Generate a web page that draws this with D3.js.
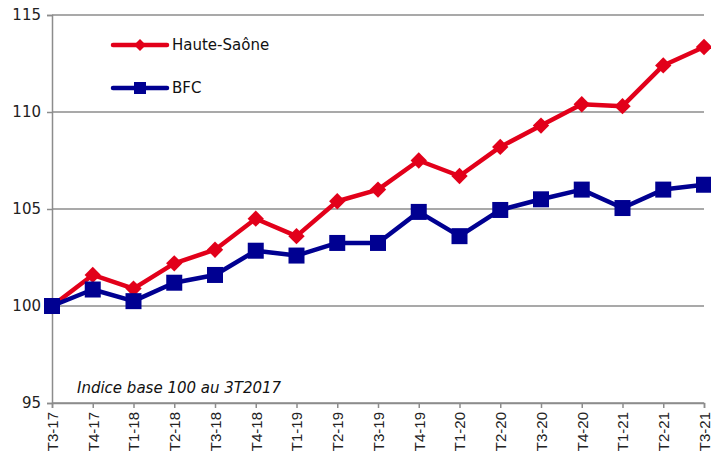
<!DOCTYPE html>
<html>
<head>
<meta charset="utf-8">
<script src="https://cdn.jsdelivr.net/npm/d3@7"></script>
<style>
  body { margin: 0; background: white; }
  svg { display: block; }
</style>
</head>
<body>
<svg id="chart"></svg>
<script>
// Data
const quarters = ['T3-17', 'T4-17', 'T1-18', 'T2-18', 'T3-18', 'T4-18', 'T1-19', 'T2-19', 'T3-19',
  'T4-19', 'T1-20', 'T2-20', 'T3-20', 'T4-20', 'T1-21', 'T2-21', 'T3-21'];
const hauteSaone = [100, 101.6, 100.9, 102.2, 102.9, 104.5, 103.6, 105.4, 106.0,
  107.5, 106.7, 108.2, 109.3, 110.4, 110.3, 112.4, 113.35];
const bfc = [100, 100.85, 100.25, 101.2, 101.6, 102.85, 102.6, 103.25, 103.25,
  104.85, 103.6, 104.95, 105.5, 106.0, 105.05, 106.0, 106.25];
const yTicks = [95, 100, 105, 110, 115];

const W = 711, H = 460;
const margin = { top: 15, right: 7, bottom: 57, left: 52 };
const width = W - margin.left - margin.right;
const height = H - margin.top - margin.bottom;

const svg = d3.select('#chart').attr('width', W).attr('height', H);
const g = svg.append('g').attr('transform', `translate(${margin.left},${margin.top})`);

const x = d3.scalePoint().domain(quarters).range([0, width]);
const y = d3.scaleLinear().domain([95, 115]).range([height, 0]);

const gridColor = '#8c8c8c';
const mainFont = '"DejaVu Sans", sans-serif';

// Horizontal gridlines
g.append('g')
  .selectAll('line')
  .data(yTicks)
  .enter()
  .append('line')
  .attr('x1', 0)
  .attr('x2', width)
  .attr('y1', d => y(d))
  .attr('y2', d => y(d))
  .attr('stroke', gridColor)
  .attr('stroke-width', 1.5);

// Y axis
const yAxis = g.append('g')
  .call(d3.axisLeft(y).tickValues(yTicks).tickSize(5).tickPadding(6));
yAxis.select('.domain').attr('stroke', gridColor).attr('stroke-width', 1.5);
yAxis.selectAll('.tick line').attr('stroke', gridColor).attr('stroke-width', 1.5);
yAxis.selectAll('text')
  .attr('fill', '#222')
  .style('font-family', mainFont)
  .style('font-size', '15px');

// X axis
const xAxis = g.append('g')
  .attr('transform', `translate(0,${height})`)
  .call(d3.axisBottom(x).tickSize(5).tickPadding(4));
xAxis.select('.domain').attr('stroke', gridColor).attr('stroke-width', 1.5);
xAxis.selectAll('.tick line').attr('stroke', gridColor).attr('stroke-width', 1.5);
xAxis.selectAll('text')
  .attr('transform', 'rotate(-90)')
  .attr('text-anchor', 'end')
  .attr('x', -9)
  .attr('y', 0)
  .attr('dy', '0.35em')
  .attr('fill', '#222')
  .style('font-family', '"Liberation Sans", Arial, sans-serif')
  .style('font-size', '15px');

// Lines
const line = d3.line().x((d, i) => x(quarters[i])).y(d => y(d));
const red = '#e2001a', blue = '#000091';

g.append('path')
  .datum(hauteSaone)
  .attr('fill', 'none')
  .attr('stroke', red)
  .attr('stroke-width', 4.5)
  .attr('stroke-linejoin', 'round')
  .attr('d', line);

g.append('path')
  .datum(bfc)
  .attr('fill', 'none')
  .attr('stroke', blue)
  .attr('stroke-width', 4.5)
  .attr('stroke-linejoin', 'round')
  .attr('d', line);

// Markers
const diamond = d3.symbol().type(d3.symbolDiamond2).size(170);
g.append('g')
  .selectAll('path')
  .data(hauteSaone)
  .enter()
  .append('path')
  .attr('d', diamond)
  .attr('transform', (d, i) => `translate(${x(quarters[i])},${y(d)})`)
  .attr('fill', red);

g.append('g')
  .selectAll('rect')
  .data(bfc)
  .enter()
  .append('rect')
  .attr('x', (d, i) => x(quarters[i]) - 8)
  .attr('y', d => y(d) - 8)
  .attr('width', 16)
  .attr('height', 16)
  .attr('fill', blue);

// Legend
const legend = svg.append('g');
const legendItems = [
  { name: 'Haute-Saône', color: red, marker: 'diamond', y: 45 },
  { name: 'BFC', color: blue, marker: 'square', y: 88 }
];
legendItems.forEach(item => {
  legend.append('line')
    .attr('x1', 113).attr('x2', 167)
    .attr('y1', item.y).attr('y2', item.y)
    .attr('stroke', item.color)
    .attr('stroke-width', 4.5)
    .attr('stroke-linecap', 'round');
  if (item.marker === 'diamond') {
    legend.append('path')
      .attr('d', d3.symbol().type(d3.symbolDiamond2).size(90))
      .attr('transform', `translate(140,${item.y})`)
      .attr('fill', item.color);
  } else {
    legend.append('rect')
      .attr('x', 134).attr('y', item.y - 6)
      .attr('width', 12).attr('height', 12)
      .attr('fill', item.color);
  }
  legend.append('text')
    .attr('x', 172)
    .attr('y', item.y)
    .attr('dy', '0.35em')
    .attr('fill', '#111')
    .style('font-family', mainFont)
    .style('font-size', '15px')
    .text(item.name);
});

// Note
svg.append('text')
  .attr('x', 77)
  .attr('y', 393)
  .attr('fill', '#111')
  .style('font-family', mainFont)
  .style('font-style', 'italic')
  .style('font-size', '15px')
  .text('Indice base 100 au 3T2017');
</script>
</body>
</html>
